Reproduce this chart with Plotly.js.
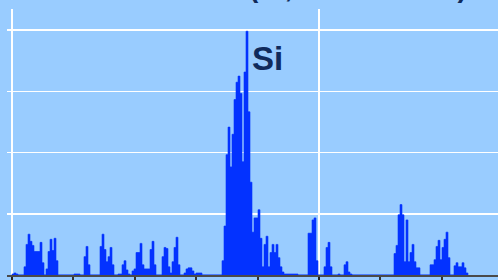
<!DOCTYPE html>
<html>
<head>
<meta charset="utf-8">
<script src="https://cdn.plot.ly/plotly-3.0.1.min.js"></script>
<style>
  html, body { margin: 0; padding: 0; overflow: hidden; background: #99ccff; }
  #chart { width: 498px; height: 280px; }
</style>
</head>
<body>
<div id="chart"></div>
<script>
// Spectrum data: counts per energy bin (keV), bins of 0.02 keV starting at 0 keV
const startEnergy = 0;
const binWidth = 0.02;
const counts = [
  1, 2, 1, 0, 0, 0, 8, 30, 40, 33,
  29, 23, 23, 23, 32, 12, 0, 6, 23, 35,
  24, 36, 14, 0, 0, 0, 0, 0, 0, 0,
  0, 1, 1, 1, 0, 0, 18, 28, 10, 0,
  0, 0, 0, 0, 28, 40, 25, 13, 18, 27,
  10, 0, 0, 1, 1, 10, 14, 5, 1, 0,
  4, 6, 22, 22, 31, 10, 6, 6, 6, 25,
  33, 10, 0, 0, 0, 18, 27, 26, 8, 2,
  13, 27, 37, 10, 0, 0, 2, 6, 7, 7,
  4, 1, 2, 2, 2, 0, 0, 0, 0, 0,
  0, 0, 0, 0, 0, 14, 48, 118, 145, 106,
  138, 172, 189, 195, 178, 111, 199, 239, 160, 91,
  42, 56, 56, 64, 36, 8, 30, 38, 8, 22,
  30, 22, 30, 17, 8, 3, 1, 1, 1, 1,
  1, 1, 1, 0, 0, 0, 0, 0, 41, 41,
  54, 56, 14, 0, 0, 0, 8, 27, 32, 8,
  0, 0, 0, 1, 0, 0, 10, 13, 3, 1,
  0, 0, 0, 0, 0, 0, 0, 0, 0, 0,
  0, 0, 0, 0, 0, 0, 0, 0, 0, 0,
  0, 21, 29, 59, 69, 59, 13, 54, 13, 22,
  30, 13, 7, 7, 0, 0, 0, 0, 0, 10,
  10, 15, 28, 34, 15, 27, 35, 42, 17, 0,
  0, 9, 12, 8, 8, 12, 7, 2
];
const energies = counts.map((_, i) => startEnergy + (i + 0.5) * binWidth);

const peakLabel = "Si";
const peakLabelEnergy = 2.38;
const peakLabelCount = 212;
const titleText = "EDS Scan (Si, 20 kV Beam)";

const navy = "#0f2a5c";
const barBlue = "#0433ff";

const trace = {
  type: "bar",
  x: energies,
  y: counts,
  width: binWidth,
  marker: { color: barBlue, line: { width: 0.6, color: barBlue } },
  hoverinfo: "skip"
};

const layout = {
  width: 498,
  height: 280,
  margin: { l: 7, r: 0, t: 9, b: 5, pad: 0 },
  paper_bgcolor: "#99ccff",
  plot_bgcolor: "#99ccff",
  bargap: 0,
  showlegend: false,
  xaxis: {
    range: [-0.05, 4.86],
    tickmode: "linear",
    tick0: 0,
    dtick: 3.07,
    showticklabels: false,
    ticks: "outside",
    ticklen: 5,
    tickwidth: 1.5,
    tickcolor: "#222",
    showgrid: true,
    gridcolor: "#ffffff",
    gridwidth: 1.5,
    zeroline: false,
    showline: true,
    linecolor: "#4a4a4a",
    linewidth: 1.5,
    minor: {
      tickmode: "linear",
      tick0: 0,
      dtick: 0.614,
      ticks: "outside",
      ticklen: 3,
      tickwidth: 2,
      tickcolor: "#333",
      showgrid: false
    }
  },
  yaxis: {
    range: [0, 260.8],
    tickmode: "linear",
    tick0: 0,
    dtick: 60,
    showticklabels: false,
    ticks: "",
    showgrid: true,
    gridcolor: "#ffffff",
    gridwidth: 1.5,
    zeroline: false,
    showline: false
  },
  annotations: [
    {
      text: peakLabel,
      x: peakLabelEnergy,
      y: peakLabelCount,
      xref: "x",
      yref: "y",
      xanchor: "left",
      yanchor: "middle",
      showarrow: false,
      font: { family: "Arial, 'Liberation Sans', sans-serif", size: 33, color: navy, weight: "bold" }
    },
    {
      text: "<b>" + titleText + "</b>",
      x: 0.94,
      y: 1.081,
      xref: "paper",
      yref: "paper",
      xanchor: "right",
      yanchor: "middle",
      showarrow: false,
      font: { family: "Arial, 'Liberation Sans', sans-serif", size: 28, color: navy }
    }
  ]
};

Plotly.newPlot("chart", [trace], layout, { staticPlot: true, displayModeBar: false });
</script>
</body>
</html>
